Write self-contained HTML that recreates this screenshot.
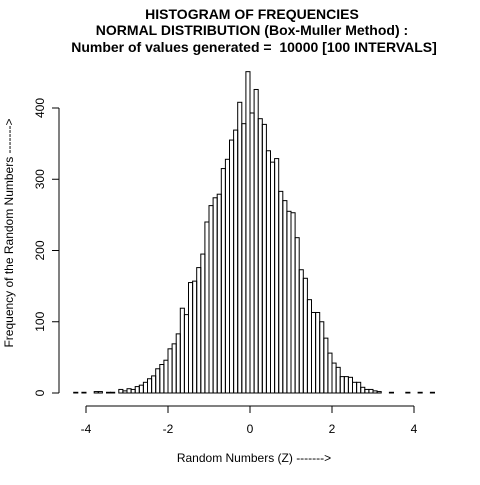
<!DOCTYPE html>
<html><head><meta charset="utf-8"><style>
body{margin:0;background:#fff}
svg text{font-family:"Liberation Sans",sans-serif;fill:#000;white-space:pre}
</style></head><body>
<svg id="chart" width="480" height="480" viewBox="0 0 480 480" xmlns="http://www.w3.org/2000/svg">
<rect width="480" height="480" fill="#fff"/>
<text x="252" y="19" text-anchor="middle" font-size="14" font-weight="bold">HISTOGRAM OF FREQUENCIES</text>
<text x="252" y="35" text-anchor="middle" font-size="14" font-weight="bold">NORMAL DISTRIBUTION (Box-Muller Method) :</text>
<text x="254" y="52" text-anchor="middle" font-size="14" font-weight="bold">Number of values generated =&#160; 10000 [100 INTERVALS]</text>
<g id="bars"></g>
<g id="xaxis"></g>
<g id="yaxis"></g>
<text x="254" y="462" text-anchor="middle" font-size="12">Random Numbers (Z) -------&gt;</text>
<text transform="translate(13,233) rotate(-90)" text-anchor="middle" font-size="12">Frequency of the Random Numbers -------&gt;</text>
</svg>
<script>
const binStart = -4.3;
const binWidth = 0.1;
const counts = [1,0,1,0,0,2,2,0,1,1,0,5,3,6,5,9,11,15,20,24,34,40,46,62,69,83,119,110,155,157,176,195,240,263,274,279,315,328,355,369,408,378,451,
393,426,385,377,340,324,329,283,270,255,253,218,173,161,131,113,113,100,77,56,42,36,23,23,22,15,15,8,5,5,3,2,0,0,1,0,0,0,1,0,0,1,0,0,1];
const xTicks = [-4,-2,0,2,4];
const yTicks = [0,100,200,300,400];
const NS="http://www.w3.org/2000/svg";
const xs = v => 250 + v*41;
const ys = v => 393 - v*0.7125;
const bars=document.getElementById('bars');
counts.forEach((c,i)=>{
  const x0=xs(binStart+i*binWidth), x1=xs(binStart+(i+1)*binWidth);
  const r=document.createElementNS(NS,'rect');
  r.setAttribute('x',x0);r.setAttribute('y',ys(c));
  r.setAttribute('width',x1-x0);r.setAttribute('height',Math.max(0,393-ys(c)));
  r.setAttribute('fill','none');r.setAttribute('stroke','#000');r.setAttribute('stroke-width','1');
  
  
  bars.appendChild(r);
});
const xa=document.getElementById('xaxis');
let l=document.createElementNS(NS,'line');
l.setAttribute('x1',xs(xTicks[0]));l.setAttribute('x2',xs(xTicks[xTicks.length-1]));
l.setAttribute('y1',406);l.setAttribute('y2',406);l.setAttribute('stroke','#000');


xa.appendChild(l);
xTicks.forEach(t=>{
  const k=document.createElementNS(NS,'line');
  k.setAttribute('x1',xs(t));k.setAttribute('x2',xs(t));k.setAttribute('y1',406);k.setAttribute('y2',413);k.setAttribute('stroke','#000');
  
  
  xa.appendChild(k);
  const tx=document.createElementNS(NS,'text');
  tx.setAttribute('x',xs(t));tx.setAttribute('y',433);tx.setAttribute('text-anchor','middle');tx.setAttribute('font-size','12');
  tx.textContent=t;
  
  
  xa.appendChild(tx);
});
const ya=document.getElementById('yaxis');
l=document.createElementNS(NS,'line');
l.setAttribute('x1',59);l.setAttribute('x2',59);l.setAttribute('y1',ys(yTicks[0]));l.setAttribute('y2',ys(yTicks[yTicks.length-1]));l.setAttribute('stroke','#000');


ya.appendChild(l);
yTicks.forEach(t=>{
  const k=document.createElementNS(NS,'line');
  k.setAttribute('x1',52);k.setAttribute('x2',59);k.setAttribute('y1',ys(t));k.setAttribute('y2',ys(t));k.setAttribute('stroke','#000');
  
  
  ya.appendChild(k);
  const tx=document.createElementNS(NS,'text');
  tx.setAttribute('transform','translate(44,'+ys(t)+') rotate(-90)');tx.setAttribute('text-anchor','middle');tx.setAttribute('font-size','12');
  tx.textContent=t;
  
  
  ya.appendChild(tx);
});
</script>
</body></html>
